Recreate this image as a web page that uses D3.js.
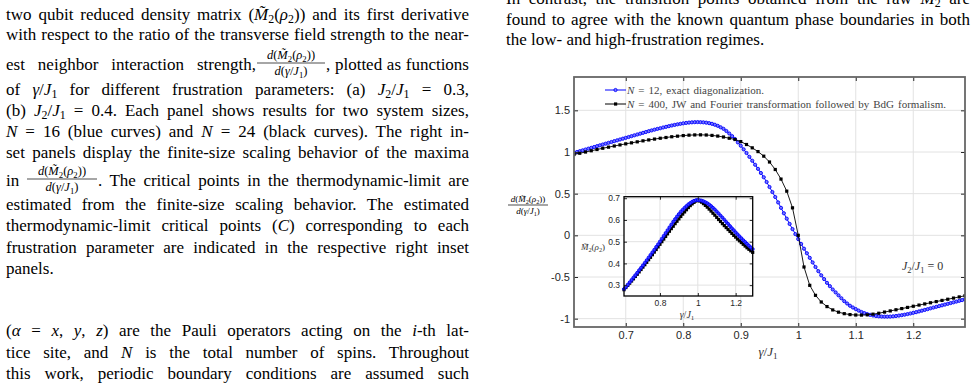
<!DOCTYPE html>
<html>
<head>
<meta charset="utf-8">
<script src="https://cdn.jsdelivr.net/npm/d3@7"></script>
<style>
  body { margin: 0; background: #fff; }
  svg { display: block; }
</style>
</head>
<body>
<div id="page"></div>
<script>
// ---- data ----
// gamma/J1 grids : N=12 has a marker every 0.005, N=400 (and the inset) every 0.01
const gammaFine = d3.range(137).map(i => +(0.61 + 0.005 * i).toFixed(3));
const gammaCoarse = d3.range(69).map(i => +(0.61 + 0.01 * i).toFixed(2));

// d(M2)/d(gamma/J1), N = 12, exact diagonalization
const dM2_N12 = [
  0.990, 1.000, 1.010, 1.020, 1.030, 1.040, 1.050, 1.060, 1.070, 1.080,
  1.090, 1.100, 1.110, 1.120, 1.130, 1.140, 1.150, 1.160, 1.170, 1.180,
  1.190, 1.200, 1.210, 1.220, 1.230, 1.240, 1.250, 1.259, 1.268, 1.277,
  1.285, 1.294, 1.302, 1.310, 1.318, 1.325, 1.332, 1.338, 1.344, 1.349,
  1.353, 1.356, 1.358, 1.359, 1.358, 1.356, 1.352, 1.346, 1.338, 1.327,
  1.314, 1.297, 1.278, 1.252, 1.222, 1.190, 1.155, 1.115, 1.075, 1.032,
  0.988, 0.942, 0.895, 0.847, 0.798, 0.748, 0.697, 0.640, 0.580, 0.520,
  0.460, 0.395, 0.330, 0.265, 0.200, 0.137, 0.075, 0.015, -0.045, -0.103,
  -0.160, -0.215, -0.270, -0.325, -0.380, -0.430, -0.480, -0.525, -0.570, -0.610,
  -0.650, -0.685, -0.720, -0.755, -0.790, -0.818, -0.845, -0.866, -0.885, -0.903,
  -0.920, -0.933, -0.945, -0.954, -0.962, -0.968, -0.972, -0.975, -0.976, -0.976,
  -0.975, -0.972, -0.968, -0.963, -0.958, -0.952, -0.945, -0.938, -0.930, -0.922,
  -0.913, -0.904, -0.895, -0.886, -0.876, -0.867, -0.858, -0.849, -0.840, -0.831,
  -0.822, -0.813, -0.804, -0.795, -0.786, -0.777, -0.768
];

// d(M2)/d(gamma/J1), N = 400, JW + Fourier + BdG
const dM2_N400 = [
  0.970, 0.985, 1.000, 1.015, 1.030, 1.045, 1.058, 1.072, 1.085, 1.098,
  1.110, 1.122, 1.134, 1.145, 1.155, 1.165, 1.174, 1.183, 1.190, 1.197,
  1.202, 1.205, 1.206, 1.204, 1.199, 1.191, 1.180, 1.165, 1.150, 1.125,
  1.090, 1.050, 1.005, 0.950, 0.880, 0.790, 0.675, 0.530, 0.330, 0.000,
  -0.380, -0.600, -0.720, -0.800, -0.855, -0.895, -0.922, -0.940, -0.951, -0.956,
  -0.957, -0.954, -0.946, -0.935, -0.921, -0.907, -0.893, -0.879, -0.865, -0.851,
  -0.837, -0.823, -0.809, -0.795, -0.781, -0.767, -0.753, -0.739, -0.725
];

// inset: M2(rho2)
const M2_N12 = [
  0.282, 0.292, 0.302, 0.313, 0.324, 0.335, 0.346, 0.357, 0.369, 0.380,
  0.391, 0.403, 0.415, 0.427, 0.439, 0.451, 0.463, 0.476, 0.488, 0.501,
  0.514, 0.527, 0.540, 0.553, 0.566, 0.579, 0.592, 0.604, 0.616, 0.627,
  0.638, 0.647, 0.656, 0.664, 0.672, 0.678, 0.684, 0.688, 0.691, 0.692,
  0.691, 0.689, 0.686, 0.682, 0.677, 0.671, 0.664, 0.656, 0.648, 0.639,
  0.630, 0.620, 0.611, 0.601, 0.591, 0.582, 0.572, 0.562, 0.553, 0.543,
  0.534, 0.525, 0.516, 0.507, 0.499, 0.490, 0.482, 0.474, 0.466
];
const M2_N400 = [
  0.279, 0.289, 0.299, 0.309, 0.319, 0.329, 0.340, 0.350, 0.361, 0.372,
  0.383, 0.394, 0.405, 0.417, 0.428, 0.440, 0.452, 0.464, 0.476, 0.488,
  0.500, 0.512, 0.524, 0.536, 0.548, 0.560, 0.571, 0.583, 0.594, 0.605,
  0.616, 0.627, 0.637, 0.647, 0.657, 0.666, 0.674, 0.681, 0.687, 0.690,
  0.687, 0.682, 0.675, 0.667, 0.659, 0.650, 0.641, 0.631, 0.622, 0.612,
  0.602, 0.593, 0.583, 0.574, 0.565, 0.556, 0.547, 0.538, 0.529, 0.521,
  0.512, 0.504, 0.496, 0.488, 0.480, 0.472, 0.465, 0.458, 0.451
];

const xTicksMain = [0.7, 0.8, 0.9, 1, 1.1, 1.2];
const yTicksMain = [-1, -0.5, 0, 0.5, 1, 1.5];
const xTicksInset = [0.8, 1, 1.2];
const yTicksInset = [0.3, 0.4, 0.5, 0.6, 0.7];

// ---- helpers ----
const serif = "'Liberation Serif', 'Times New Roman', serif";
const sans = "'Liberation Sans', Arial, sans-serif";

// parts: "plain" or [text, flags] ; flags: i = italic, s = subscript
function rich(g, x, y, parts, size, opt = {}) {
  const t = g.append("text").attr("x", x).attr("y", y)
    .style("font-family", opt.font || serif)
    .style("font-size", size + "px")
    .attr("fill", opt.color || "#000");
  let shift = 0;
  parts.forEach(p => {
    const [str, fl] = typeof p === "string" ? [p, ""] : p;
    const s = t.append("tspan").text(str);
    let dy;
    if (fl.includes("s")) {
      s.style("font-size", (size * 0.7) + "px");
      dy = size * 0.22 - shift; shift = size * 0.22;
    } else { dy = -shift; shift = 0; }
    if (dy) s.attr("dy", dy);
    if (fl.includes("i")) s.style("font-style", "italic");
  });
  if (opt.anchor) t.attr("text-anchor", opt.anchor);
  if (opt.width) justify(t, opt.width);
  return t;
}

// spread the spare room over the spaces, like a justified line
function justify(t, width) {
  const natural = t.node().getComputedTextLength();
  const n = (t.text().match(/ /g) || []).length;
  if (n) t.style("word-spacing", ((width - natural) / n) + "px");
}

function frac(g, cx, barY, num, den, size, w) {
  rich(g, cx, barY - size * 0.3, num, size, {anchor: "middle"});
  g.append("line").attr("x1", cx - w / 2).attr("x2", cx + w / 2)
    .attr("y1", barY).attr("y2", barY).attr("stroke", "#000").attr("stroke-width", 0.7);
  rich(g, cx, barY + size * 0.95, den, size, {anchor: "middle"});
}

const M2rho = [["M\u0303", "i"], ["2", "s"], "(", ["\u03c1", "i"], ["2", "s"], ")"];
const numParts = [["d", "i"], "(", ...M2rho, ")"];
const denParts = [["d", "i"], "(", ["\u03b3", "i"], "/", ["J", "i"], ["1", "s"], ")"];
const J2J1 = [["J", "i"], ["2", "s"], "/", ["J", "i"], ["1", "s"]];

const svg = d3.select("#page").append("svg").attr("width", 976).attr("height", 386);

// ---- surrounding paper text ----
const txt = svg.append("g");
const L = 6, W = 463, FS = 17;
rich(txt, L, 19.5, ["two qubit reduced density matrix (", ...M2rho, ") and its first derivative"], FS, {width: W});
rich(txt, L, 39.5, ["with respect to the ratio of the transverse field strength to the near-"], FS, {width: W});
rich(txt, L, 70, ["est neighbor interaction strength,"], FS, {width: 250});
frac(txt, 291, 63, numParts, denParts, 12.5, 68);
rich(txt, 326, 70, [", plotted as functions"], FS, {width: L + W - 326});
rich(txt, L, 94.5, ["of ", ["\u03b3", "i"], "/", ["J", "i"], ["1", "s"], " for different frustration parameters: (a) ", ...J2J1, " = 0.3,"], FS, {width: W});
rich(txt, L, 115.5, ["(b) ", ...J2J1, " = 0.4. Each panel shows results for two system sizes,"], FS, {width: W});
rich(txt, L, 137, [["N", "i"], " = 16 (blue curves) and ", ["N", "i"], " = 24 (black curves). The right in-"], FS, {width: W});
rich(txt, L, 158, ["set panels display the finite-size scaling behavior of the maxima"], FS, {width: W});
rich(txt, L, 186, ["in"], FS);
frac(txt, 62, 179, numParts, denParts, 12.5, 70);
rich(txt, 98, 186, [". The critical points in the thermodynamic-limit are"], FS, {width: L + W - 98});
rich(txt, L, 209.5, ["estimated from the finite-size scaling behavior. The estimated"], FS, {width: W});
rich(txt, L, 231, ["thermodynamic-limit critical points (", ["C", "i"], ") corresponding to each"], FS, {width: W});
rich(txt, L, 252.5, ["frustration parameter are indicated in the respective right inset"], FS, {width: W});
rich(txt, L, 273.5, ["panels."], FS);
rich(txt, L, 336, ["(", ["\u03b1", "i"], " = ", ["x", "i"], ", ", ["y", "i"], ", ", ["z", "i"], ") are the Pauli operators acting on the ", ["i", "i"], "-th lat-"], FS, {width: W});
rich(txt, L, 357.5, ["tice site, and ", ["N", "i"], " is the total number of spins. Throughout"], FS, {width: W});
rich(txt, L, 378.5, ["this work, periodic boundary conditions are assumed such"], FS, {width: W});

const R = 506, RW = 464;
rich(txt, R, 3.5, ["In contrast, the transition points obtained from the raw ", ["M", "i"], ["2", "s"], " are"], FS, {width: RW});
rich(txt, R, 24.5, ["found to agree with the known quantum phase boundaries in both"], FS, {width: RW});
rich(txt, R, 45, ["the low- and high-frustration regimes."], FS);

// ---- main axes ----
const ax = {left: 574, right: 965, top: 77, bottom: 327};
const x = d3.scaleLinear().domain([0.61, 1.29]).range([ax.left, ax.right]);
const y = d3.scaleLinear().domain([-1.1, 1.9]).range([ax.bottom, ax.top]);

const chart = svg.append("g");
// grid
chart.append("g").selectAll("line").data(xTicksMain).join("line")
  .attr("x1", d => x(d)).attr("x2", d => x(d)).attr("y1", ax.top).attr("y2", ax.bottom)
  .attr("stroke", "#e2e2e2").attr("stroke-width", 1);
chart.append("g").selectAll("line").data(yTicksMain).join("line")
  .attr("y1", d => y(d)).attr("y2", d => y(d)).attr("x1", ax.left).attr("x2", ax.right)
  .attr("stroke", "#e2e2e2").attr("stroke-width", 1);

svg.append("clipPath").attr("id", "clipMain").append("rect")
  .attr("x", ax.left).attr("y", ax.top).attr("width", ax.right - ax.left).attr("height", ax.bottom - ax.top);

const lineMain = d3.line().x(d => x(d[0])).y(d => y(d[1]));
const ptsN12 = gammaFine.map((g, i) => [g, dM2_N12[i]]);
const ptsN400 = gammaCoarse.map((g, i) => [g, dM2_N400[i]]);

const curves = chart.append("g").attr("clip-path", "url(#clipMain)");
curves.append("path").datum(ptsN12).attr("d", lineMain)
  .attr("fill", "none").attr("stroke", "#0000ff").attr("stroke-width", 1);
curves.append("g").selectAll("circle").data(ptsN12).join("circle")
  .attr("cx", d => x(d[0])).attr("cy", d => y(d[1])).attr("r", 1.6)
  .attr("fill", "#7a7aff").attr("stroke", "#0000ff").attr("stroke-width", 0.9);
curves.append("path").datum(ptsN400).attr("d", lineMain)
  .attr("fill", "none").attr("stroke", "#000").attr("stroke-width", 0.9);
curves.append("g").selectAll("rect").data(ptsN400).join("rect")
  .attr("x", d => x(d[0]) - 1.6).attr("y", d => y(d[1]) - 1.6)
  .attr("width", 3.2).attr("height", 3.2).attr("fill", "#000");

// box + inward ticks
function styleAxis(g, size) {
  g.select(".domain").remove();
  g.selectAll(".tick line").attr("stroke", "#262626");
  g.selectAll("text").attr("fill", "#262626").style("font-family", sans).style("font-size", size + "px");
}
const fmt = d => String(d);
chart.append("g").attr("transform", `translate(0,${ax.bottom})`)
  .call(d3.axisBottom(x).tickValues(xTicksMain).tickSizeInner(-4).tickSizeOuter(0).tickPadding(4).tickFormat(fmt))
  .call(g => styleAxis(g, 11));
chart.append("g").attr("transform", `translate(0,${ax.top})`)
  .call(d3.axisTop(x).tickValues(xTicksMain).tickSizeInner(-4).tickSizeOuter(0).tickFormat(""))
  .call(g => styleAxis(g, 11));
chart.append("g").attr("transform", `translate(${ax.left},0)`)
  .call(d3.axisLeft(y).tickValues(yTicksMain).tickSizeInner(-4).tickSizeOuter(0).tickPadding(4).tickFormat(fmt))
  .call(g => styleAxis(g, 11));
chart.append("g").attr("transform", `translate(${ax.right},0)`)
  .call(d3.axisRight(y).tickValues(yTicksMain).tickSizeInner(-4).tickSizeOuter(0).tickFormat(""))
  .call(g => styleAxis(g, 11));
chart.append("rect").attr("x", ax.left).attr("y", ax.top)
  .attr("width", ax.right - ax.left).attr("height", ax.bottom - ax.top)
  .attr("fill", "none").attr("stroke", "#666").attr("stroke-width", 1.8);

// axis labels
rich(chart, 768, 356, [["\u03b3", "i"], "/", ["J", "i"], ["1", "s"]], 13, {anchor: "middle", color: "#333"});
frac(chart, 528, 205, numParts, denParts, 9, 40);
rich(chart, 902, 270, [...J2J1, " = 0"], 12, {color: "#333"});

// legend
const legend = chart.append("g");
legend.append("line").attr("x1", 605).attr("x2", 626).attr("y1", 90).attr("y2", 90)
  .attr("stroke", "#0000ff").attr("stroke-width", 1);
legend.append("circle").attr("cx", 615.5).attr("cy", 90).attr("r", 1.6)
  .attr("fill", "#7a7aff").attr("stroke", "#0000ff").attr("stroke-width", 0.9);
legend.append("line").attr("x1", 605).attr("x2", 626).attr("y1", 104).attr("y2", 104)
  .attr("stroke", "#000").attr("stroke-width", 1);
legend.append("rect").attr("x", 614).attr("y", 102.4).attr("width", 3.2).attr("height", 3.2).attr("fill", "#000");
rich(legend, 627, 93.5, [["N", "i"], " = 12, exact diagonalization."], 11, {color: "#444", width: 137});
rich(legend, 627, 107.5, [["N", "i"], " = 400, JW and Fourier transformation followed by BdG formalism."], 11, {color: "#444", width: 319});

// ---- inset ----
const ia = {left: 624, right: 752.7, top: 196.7, bottom: 296};
const xi = d3.scaleLinear().domain([0.61, 1.29]).range([ia.left, ia.right]);
const yi = d3.scaleLinear().domain([0.25, 0.707]).range([ia.bottom, ia.top]);
const inset = svg.append("g");
inset.append("rect").attr("x", ia.left).attr("y", ia.top)
  .attr("width", ia.right - ia.left).attr("height", ia.bottom - ia.top).attr("fill", "#fff");
inset.append("g").selectAll("line").data(xTicksInset).join("line")
  .attr("x1", d => xi(d)).attr("x2", d => xi(d)).attr("y1", ia.top).attr("y2", ia.bottom)
  .attr("stroke", "#e2e2e2");
inset.append("g").selectAll("line").data(yTicksInset).join("line")
  .attr("y1", d => yi(d)).attr("y2", d => yi(d)).attr("x1", ia.left).attr("x2", ia.right)
  .attr("stroke", "#e2e2e2");

const lineInset = d3.line().x(d => xi(d[0])).y(d => yi(d[1]));
const insN400 = gammaCoarse.map((g, i) => [g, M2_N400[i]]);
const insN12 = gammaCoarse.map((g, i) => [g, M2_N12[i]]);
inset.append("path").datum(insN400).attr("d", lineInset).attr("fill", "none").attr("stroke", "#000").attr("stroke-width", 1);
inset.append("g").selectAll("rect").data(insN400).join("rect")
  .attr("x", d => xi(d[0]) - 1.6).attr("y", d => yi(d[1]) - 1.6).attr("width", 3.2).attr("height", 3.2).attr("fill", "#000");
inset.append("path").datum(insN12).attr("d", lineInset).attr("fill", "none").attr("stroke", "#0000ff").attr("stroke-width", 1);
inset.append("g").selectAll("circle").data(insN12).join("circle")
  .attr("cx", d => xi(d[0])).attr("cy", d => yi(d[1])).attr("r", 1.5)
  .attr("fill", "#3a3aff").attr("stroke", "#0000ff").attr("stroke-width", 0.9);

inset.append("g").attr("transform", `translate(0,${ia.bottom})`)
  .call(d3.axisBottom(xi).tickValues(xTicksInset).tickSizeInner(-3).tickSizeOuter(0).tickPadding(4).tickFormat(fmt))
  .call(g => styleAxis(g, 8.5));
inset.append("g").attr("transform", `translate(0,${ia.top})`)
  .call(d3.axisTop(xi).tickValues(xTicksInset).tickSizeInner(-3).tickSizeOuter(0).tickFormat(""))
  .call(g => styleAxis(g, 8.5));
inset.append("g").attr("transform", `translate(${ia.left},0)`)
  .call(d3.axisLeft(yi).tickValues(yTicksInset).tickSizeInner(-3).tickSizeOuter(0).tickPadding(4).tickFormat(fmt))
  .call(g => styleAxis(g, 8.5));
inset.append("g").attr("transform", `translate(${ia.right},0)`)
  .call(d3.axisRight(yi).tickValues(yTicksInset).tickSizeInner(-3).tickSizeOuter(0).tickFormat(""))
  .call(g => styleAxis(g, 8.5));
inset.append("rect").attr("x", ia.left).attr("y", ia.top)
  .attr("width", ia.right - ia.left).attr("height", ia.bottom - ia.top)
  .attr("fill", "none").attr("stroke", "#000").attr("stroke-width", 1.3);
rich(inset, 593, 250, M2rho, 9, {anchor: "middle", color: "#333"});
rich(inset, 687, 318, [["\u03b3", "i"], "/", ["J", "i"], ["1", "s"]], 10, {anchor: "middle", color: "#333"});
</script>
</body>
</html>
